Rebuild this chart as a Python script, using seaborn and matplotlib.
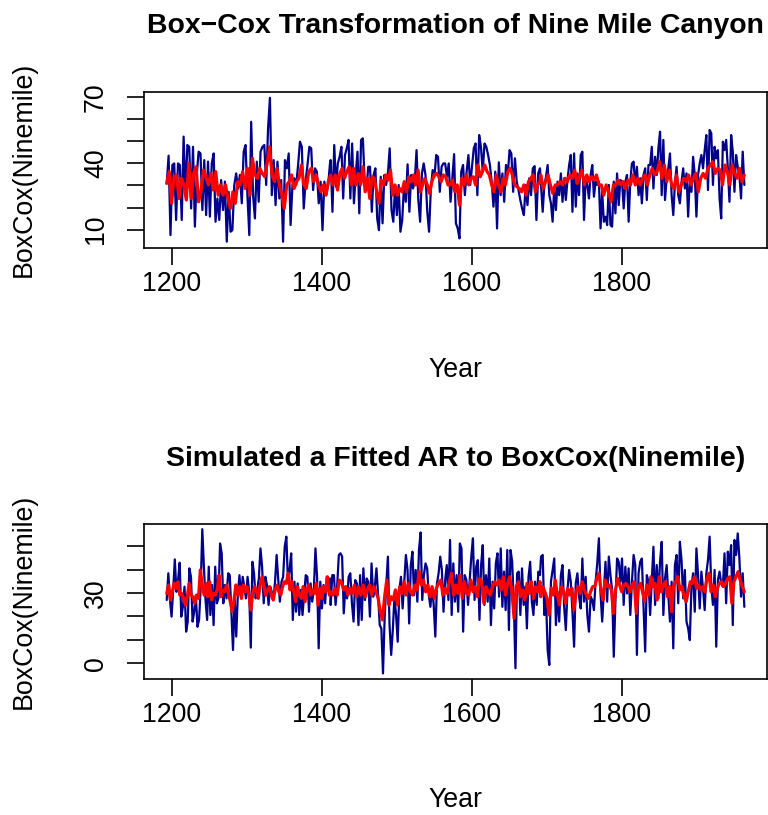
import numpy as np
import pandas as pd
import matplotlib
matplotlib.use("Agg")
import matplotlib.pyplot as plt
import seaborn as sns

sns.set_theme(style="ticks")
plt.rcParams["font.family"] = ["Liberation Sans", "DejaVu Sans"]
for key in ["text.color", "axes.labelcolor", "xtick.color", "ytick.color", "axes.edgecolor"]:
    plt.rcParams[key] = "black"

# ---------------- data ----------------
TITLE_TOP = "Box\u2212Cox Transformation of Nine Mile Canyon"
TITLE_BOTTOM = "Simulated a Fitted AR to BoxCox(Ninemile)"
XLABEL = "Year"
YLABEL = "BoxCox(Ninemile)"
X_TICKS = [1200, 1400, 1600, 1800]
TOP_Y_TICKS = [10, 20, 30, 40, 50, 60, 70]
TOP_Y_LABELS = ["10", "", "", "40", "", "", "70"]
BOT_Y_TICKS = [0, 10, 20, 30, 40, 50]
BOT_Y_LABELS = ["0", "", "", "30", "", ""]

# year spans of each segment
TOP_BLUE_SPANS = [(1193.3, 1411.0), (1411.9, 1691.0), (1692.4, 1963.5)]
TOP_RED_SPANS = [(1193.3, 1408.8), (1411.9, 1691.0), (1692.0, 1963.5)]
BOT_BLUE_SPANS = [(1193.3, 1411.0), (1411.9, 1691.0), (1692.4, 1963.5)]
BOT_RED_SPANS = [(1193.3, 1410.1), (1411.9, 1691.0), (1692.0, 1963.5)]

top_blue_1 = [30.9, 43.4, 7.6, 39.2, 39.9, 14.4, 39.9, 39.2, 14.4, 52.0, 25.6, 48.2, 47.4, 19.6, 47.4, 11.4,
              34.7, 45.2, 44.4, 18.9, 41.4, 16.6, 40.7, 15.9, 39.9, 44.4, 13.6, 24.1, 14.4, 32.4, 18.9, 31.7,
              4.6, 27.1, 9.1, 9.8, 30.2, 35.4, 28.6, 34.7, 21.9, 45.2, 48.2, 25.6, 7.6, 58.7, 25.6, 15.1,
              40.7, 22.6, 45.2, 47.4, 48.2, 30.2, 55.7, 69.5, 25.6, 41.4, 21.1, 40.7, 24.1, 32.4, 4.6, 41.4,
              37.7, 44.4, 12.1, 30.2, 33.2, 30.2, 39.2, 49.7, 47.4, 19.6, 31.7, 39.2, 47.4, 46.7, 27.9, 37.7,
              36.2, 21.9, 31.7, 9.8, 31.7, 25.6, 30.2, 39.9]
top_blue_2 = [41.4, 18.1, 48.2, 29.4, 39.9, 42.9, 47.4, 24.1, 43.7, 46.7, 50.5, 24.1, 48.9, 21.9, 34.7, 45.2,
              17.4, 50.5, 51.2, 31.7, 27.9, 38.4, 38.4, 18.1, 34.7, 37.7, 15.1, 9.8, 33.9, 12.9, 34.7, 30.2,
              35.4, 46.7, 18.9, 13.6, 29.4, 16.6, 30.2, 9.1, 14.4, 30.2, 22.6, 39.5, 18.1, 34.7, 28.6, 31.7,
              45.9, 23.4, 13.6, 35.4, 39.9, 34.7, 18.1, 9.1, 28.6, 36.9, 33.9, 43.7, 42.9, 27.1, 38.4, 39.9,
              39.9, 33.9, 39.9, 22.6, 33.2, 44.1, 12.9, 10.6, 6.1, 36.2, 39.2, 25.6, 36.2, 43.7, 30.2, 38.4,
              46.7, 48.9, 25.6, 52.7, 47.4, 36.2, 48.9, 47.4, 43.7, 39.2, 31.7, 20.4, 36.2, 10.6, 40.4, 25.6,
              35.4, 22.6, 39.2, 35.0, 45.9, 44.4, 27.1, 42.2, 31.7, 27.9, 23.4, 19.6, 16.6, 30.2, 21.1, 33.2,
              25.6, 37.7, 38.7, 14.4, 35.4, 37.7]
top_blue_3 = [30.2, 18.1, 30.2, 33.9, 39.2, 25.6, 21.9, 13.6, 29.4, 18.9, 31.7, 25.6, 35.4, 22.6, 33.2, 23.4,
              32.4, 39.2, 43.7, 18.1, 44.4, 20.4, 35.4, 25.6, 43.7, 45.2, 14.4, 33.9, 30.2, 24.1, 34.7, 39.2,
              24.9, 31.7, 30.2, 31.7, 10.6, 27.1, 13.6, 15.9, 12.1, 30.2, 12.1, 11.4, 31.7, 17.4, 35.4, 21.1,
              32.4, 31.7, 19.6, 31.7, 34.7, 13.6, 31.7, 39.9, 40.7, 30.2, 38.4, 25.6, 33.2, 21.9, 34.7, 37.7,
              23.4, 39.2, 39.2, 47.4, 28.6, 42.9, 34.7, 46.7, 54.2, 25.6, 50.5, 23.4, 33.2, 37.7, 44.4, 25.6,
              16.6, 30.9, 38.4, 25.6, 21.9, 31.7, 37.7, 28.6, 35.4, 15.9, 33.2, 27.1, 42.9, 34.7, 15.9, 34.7,
              39.9, 43.7, 37.7, 45.9, 52.7, 27.9, 55.0, 53.5, 30.2, 47.4, 42.2, 45.9, 24.1, 15.1, 49.7, 45.9,
              50.5, 37.7, 22.6, 52.7, 45.2, 27.1, 43.7, 38.4, 34.7, 24.1, 45.2, 30.2]

top_red_1 = [30.9, 36.2, 21.9, 33.9, 34.7, 24.1, 33.2, 30.2, 23.4, 39.9, 24.1, 35.4, 38.4, 22.6, 27.1, 36.9,
             33.9, 30.2, 35.4, 27.9, 36.2, 25.6, 30.2, 25.6, 30.2, 24.1, 19.6, 27.1, 21.9, 31.7, 30.2, 36.2,
             28.6, 37.7, 25.6, 42.2, 34.7, 33.2, 37.7, 35.4, 33.9, 39.9, 47.4, 34.7, 31.7, 37.7, 30.2, 25.6,
             19.6, 30.2, 31.7, 34.7, 28.6, 31.7, 33.2, 39.2, 30.2, 28.6, 36.2, 37.7, 31.7, 34.7, 30.2, 27.1,
             30.2, 25.6, 31.7]
top_red_2 = [34.7, 30.2, 34.7, 27.9, 35.4, 37.7, 33.2, 36.2, 38.4, 30.2, 37.7, 30.2, 35.4, 30.2, 38.4, 27.1,
             33.2, 24.1, 33.9, 33.2, 27.1, 21.9, 32.4, 30.2, 34.7, 32.4, 36.9, 25.6, 30.2, 25.6, 28.6, 27.1,
             31.7, 27.1, 33.9, 31.7, 34.7, 30.2, 36.9, 27.1, 30.2, 33.2, 30.2, 26.4, 31.7, 34.7, 35.4, 33.9,
             31.7, 34.7, 33.9, 30.2, 30.2, 32.4, 27.1, 30.2, 21.1, 33.2, 30.2, 34.7, 30.2, 33.2, 33.9, 30.2,
             39.2, 33.9, 36.2, 39.2, 36.2, 34.7, 30.2, 27.1, 34.7, 30.2, 27.1, 33.2, 30.2, 36.2, 37.7, 34.7,
             30.2, 29.4, 28.6, 27.1, 30.2, 25.6, 31.7, 33.2, 34.7, 27.1, 30.2, 31.7]
top_red_3 = [34.7, 28.6, 31.7, 34.7, 30.2, 26.4, 30.2, 30.2, 31.7, 30.2, 33.2, 31.7, 34.7, 33.2, 36.9, 30.9,
             33.9, 36.9, 30.2, 34.7, 31.7, 33.9, 32.4, 34.7, 30.2, 30.2, 25.6, 30.2, 27.1, 22.6, 30.2, 30.2,
             32.4, 30.2, 31.7, 28.6, 32.4, 30.2, 34.7, 30.2, 33.2, 30.2, 33.2, 34.7, 30.2, 34.7, 37.7, 34.7,
             36.2, 40.7, 33.2, 39.2, 31.7, 36.9, 30.2, 28.6, 34.7, 27.1, 30.2, 33.2, 31.7, 34.7, 30.2, 33.2,
             35.4, 27.1, 33.2, 35.4, 33.2, 37.7, 39.2, 40.7, 35.4, 37.7, 36.9, 30.2, 39.2, 36.2, 30.2, 39.2,
             35.4, 33.2, 37.7, 31.7, 34.7]

bot_blue_1 = [27.0, 38.4, 27.0, 19.9, 31.3, 44.3, 30.5, 35.5, 42.9, 19.9, 24.1, 32.7, 13.5, 17.8, 40.5, 36.9,
              17.8, 22.0, 29.1, 15.6, 18.5, 32.0, 57.2, 41.2, 27.0, 18.5, 41.2, 20.6, 33.4, 16.3, 41.2, 25.6,
              27.7, 51.1, 46.9, 25.6, 33.4, 27.7, 38.4, 37.6, 22.0, 5.7, 28.4, 11.4, 29.8, 37.6, 27.7, 36.9,
              32.7, 27.7, 36.9, 30.5, 6.7, 43.3, 38.4, 27.7, 31.3, 36.2, 49.0, 41.2, 25.6, 36.9, 33.4, 24.9,
              32.7, 30.5, 27.0, 34.8, 46.2, 35.5, 26.3, 34.8, 36.9, 49.7, 54.0, 34.8, 39.8, 46.9, 18.5, 34.8,
              22.0, 34.1, 20.6, 31.3, 20.6, 29.1, 37.6, 36.9, 22.0, 34.1, 26.3, 31.3, 49.0, 36.9, 6.4, 34.8,
              23.4, 33.4, 25.6, 36.9, 31.3, 36.2]
bot_blue_2 = [24.9, 37.6, 37.6, 24.9, 33.4, 46.2, 46.9, 45.5, 21.3, 32.7, 27.7, 36.9, 38.4, 25.6, 17.8, 35.5,
              34.1, 16.3, 37.6, 18.5, 40.5, 27.0, 36.2, 34.8, 19.9, 42.6, 28.4, 32.7, 40.5, 29.1, 16.3, 14.9,
              -4.3, 19.2, 33.4, 45.5, 16.3, 3.6, 14.2, 28.4, 20.6, 9.2, 31.3, 36.9, 23.4, 34.8, 46.2, 39.8,
              17.0, 41.9, 47.6, 29.1, 39.8, 26.3, 48.3, 55.8, 27.0, 37.6, 42.6, 40.5, 29.1, 24.1, 32.7, 24.9,
              11.4, 34.1, 38.4, 45.5, 39.8, 22.0, 35.5, 41.9, 27.0, 52.6, 20.6, 42.6, 26.3, 37.6, 22.0, 51.1,
              49.0, 13.5, 37.6, 35.5, 24.9, 35.5, 45.5, 53.3, 27.0, 41.2, 44.0, 18.5, 41.9, 50.4, 24.9, 37.6,
              26.3, 44.7, 16.3, 34.8, 23.4, 42.6, 46.9, 28.4, 49.0, 24.1, 39.1, 22.7, 48.3, 14.2, 48.3, 43.3,
              25.6, -2.1, 38.4, 39.1, 20.6, 40.5, 24.9, 32.7, 14.9, 36.9, 43.3, 26.3, 20.6, 34.8, 24.9, 39.1,
              37.6]
bot_blue_3 = [45.5, 46.2, 20.6, 27.7, 5.7, -0.7, 34.8, 39.8, 44.7, 16.3, 30.5, 17.8, 37.6, 41.9, 24.1, 14.2,
              31.3, 39.8, 34.8, 22.0, 7.1, 34.1, 38.4, 28.4, 23.4, 44.7, 26.3, 36.9, 20.6, 13.5, 28.4, 27.0,
              22.7, 34.8, 42.6, 53.3, 29.8, 17.8, 30.5, 43.3, 26.3, 45.5, 37.6, 31.3, 2.8, 26.3, 44.7, 43.3,
              34.8, 44.7, 24.9, 41.2, 29.8, 40.5, 20.6, 34.8, 46.2, 41.9, 3.6, 38.4, 43.3, 44.7, 24.1, 5.0,
              37.6, 34.8, 20.6, 34.8, 49.7, 24.9, 41.9, 27.7, 43.3, 51.8, 20.6, 36.2, 41.9, 29.1, 17.8, 34.8,
              6.4, 41.9, 46.2, 25.6, 51.8, 44.0, 27.7, 39.8, 17.8, 14.9, 9.9, 32.7, 38.4, 22.0, 49.0, 37.6,
              23.4, 39.1, 32.0, 22.7, 38.4, 44.0, 54.0, 32.7, 24.9, 39.8, 7.1, 35.5, 39.1, 34.1, 32.7, 46.9,
              25.6, 47.6, 41.9, 50.4, 16.3, 52.6, 46.2, 55.4, 44.7, 28.4, 38.4, 24.1]

bot_red_1 = [29.8, 33.4, 27.0, 30.5, 34.1, 32.0, 34.8, 29.1, 29.8, 27.7, 24.9, 28.4, 34.1, 29.1, 28.4, 25.6,
             29.1, 27.7, 39.8, 33.4, 29.1, 34.1, 28.4, 34.8, 27.0, 29.8, 29.1, 31.3, 37.6, 28.4, 31.3, 30.5,
             33.4, 29.8, 26.3, 22.0, 27.0, 33.4, 29.1, 32.7, 27.7, 33.4, 30.5, 32.7, 29.1, 22.7, 29.8, 32.7,
             30.5, 27.7, 33.4, 36.9, 32.7, 29.1, 31.3, 32.7, 29.1, 27.0, 31.3, 33.4, 30.5, 29.1, 32.7, 34.8,
             34.1, 38.4, 31.3, 34.8, 30.5, 26.3, 32.7, 29.1, 27.7, 32.7, 26.3, 31.3, 33.4, 29.1, 31.3, 29.8,
             34.1, 24.9, 32.0, 27.7, 32.7, 30.5, 36.9, 29.1]
bot_red_2 = [30.5, 29.1, 32.0, 29.1, 35.5, 34.8, 31.3, 32.7, 29.1, 32.0, 29.8, 33.4, 28.4, 32.7, 29.1, 33.4,
             28.4, 31.3, 33.4, 29.1, 32.7, 30.5, 27.7, 22.0, 18.5, 28.4, 35.5, 24.9, 28.4, 27.0, 31.3, 24.9,
             32.7, 29.8, 34.8, 29.1, 34.1, 30.5, 29.1, 33.4, 31.3, 39.1, 33.4, 35.5, 30.5, 33.4, 28.4, 32.7,
             27.7, 32.0, 34.1, 35.5, 29.1, 32.0, 29.8, 34.8, 38.4, 29.1, 33.4, 29.8, 37.6, 27.7, 34.8, 29.8,
             29.1, 35.5, 30.5, 32.7, 28.4, 36.2, 34.8, 25.6, 32.7, 30.5, 29.1, 32.7, 34.8, 33.4, 35.5, 31.3,
             36.9, 29.1, 34.1, 36.9, 30.5, 19.2, 32.7, 34.8, 28.4, 31.3, 27.0, 34.1, 29.8, 34.8, 27.7, 32.7,
             30.5, 34.8]
bot_red_3 = [28.4, 32.7, 30.5, 27.7, 20.6, 32.0, 29.1, 35.5, 29.1, 24.9, 32.7, 30.5, 25.6, 32.0, 29.1, 32.0,
             22.7, 30.5, 32.7, 29.8, 34.8, 31.3, 29.1, 27.7, 30.5, 32.7, 32.7, 36.2, 38.4, 31.3, 27.0, 35.5,
             32.7, 33.4, 31.3, 21.3, 31.3, 36.2, 33.4, 30.5, 33.4, 34.1, 32.7, 30.5, 33.4, 34.8, 21.3, 32.7,
             34.1, 30.5, 26.3, 33.4, 29.1, 36.9, 32.7, 34.1, 27.0, 36.9, 30.5, 33.4, 34.8, 28.4, 32.7, 22.0,
             33.4, 34.8, 36.9, 31.3, 32.7, 28.4, 26.3, 30.5, 34.8, 34.1, 36.9, 32.0, 33.4, 31.3, 32.7, 30.5,
             36.2, 38.4, 30.5, 33.4, 28.4, 32.0, 34.1, 34.8, 32.7, 34.1, 36.2, 36.9, 25.6, 34.8, 36.9, 39.1,
             35.5, 32.7, 30.5]


def build_frame(spans, segments):
    parts = []
    for (y0, y1), vals in zip(spans, segments):
        parts.append(pd.DataFrame({"Year": np.linspace(y0, y1, len(vals)), "Value": vals}))
    return pd.concat(parts, ignore_index=True)


df_top_blue = build_frame(TOP_BLUE_SPANS, [top_blue_1, top_blue_2, top_blue_3])
df_top_red = build_frame(TOP_RED_SPANS, [top_red_1, top_red_2, top_red_3])
df_bot_blue = build_frame(BOT_BLUE_SPANS, [bot_blue_1, bot_blue_2, bot_blue_3])
df_bot_red = build_frame(BOT_RED_SPANS, [bot_red_1, bot_red_2, bot_red_3])

# ---------------- figure ----------------
W, H = 768, 815
fig = plt.figure(figsize=(W / 100, H / 100), dpi=100)
fig.patch.set_facecolor("white")
ax1 = fig.add_axes([144 / W, 1 - 247.7 / H, (766.7 - 144) / W, 156 / H])
ax2 = fig.add_axes([144 / W, 1 - 679.3 / H, (766.7 - 144) / W, 155.3 / H])

FS = 19.3
TFS = 20.4
BLUE = "#00008B"
RED = "#FF0000"


def draw(ax, dfb, dfr, title, title_y, ylim, yticks, ylabels, xlab_y):
    sns.lineplot(data=dfb, x="Year", y="Value", ax=ax, color=BLUE, linewidth=1.6,
                 estimator=None, sort=False)
    sns.lineplot(data=dfr, x="Year", y="Value", ax=ax, color=RED, linewidth=2.3,
                 estimator=None, sort=False)
    ax.set_xlim(1163, 1993.3)
    ax.set_ylim(*ylim)
    ax.set_facecolor("white")
    ax.set_xticks(X_TICKS)
    ax.set_xticklabels([str(t) for t in X_TICKS])
    ax.set_yticks(yticks)
    ax.set_yticklabels(ylabels)
    for s in ax.spines.values():
        s.set_visible(True)
        s.set_color("black")
        s.set_linewidth(1.2)
    ax.tick_params(axis="both", length=12.2, width=1.2, colors="black", labelsize=FS)
    ax.tick_params(axis="x", pad=4.5)
    ax.tick_params(axis="y", pad=13.0)
    for lab in ax.get_yticklabels():
        lab.set_rotation(90)
        lab.set_va("center")
    ax.set_title(title, fontsize=TFS, fontweight="bold", y=title_y, va="center", pad=0,
                 color="black")
    ax.set_xlabel(XLABEL, fontsize=FS)
    ax.set_ylabel(YLABEL, fontsize=FS)
    ax.xaxis.label.set_va("center")
    ax.yaxis.label.set_va("center")
    ax.xaxis.set_label_coords(0.5, xlab_y)
    ax.yaxis.set_label_coords(-0.1927, 0.5)
    ax.grid(False)


draw(ax1, df_top_blue, df_top_red, TITLE_TOP, 1.42, (1.9, 72.25), TOP_Y_TICKS, TOP_Y_LABELS, -0.784)
draw(ax2, df_bot_blue, df_bot_red, TITLE_BOTTOM, 1.418, (-6.8, 59.4), BOT_Y_TICKS, BOT_Y_LABELS, -0.777)

fig.savefig("out.png", dpi=100)
